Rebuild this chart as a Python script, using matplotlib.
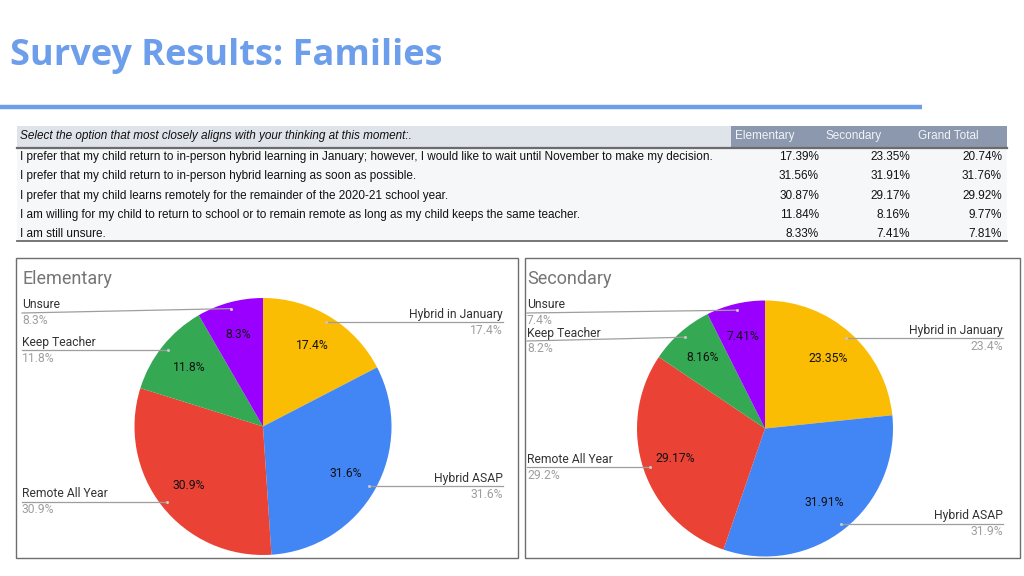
import numpy as np
import matplotlib
matplotlib.use("Agg")
import matplotlib.pyplot as plt
from matplotlib.patches import Rectangle

# ---- data ----
categories = ["Hybrid in January", "Hybrid ASAP", "Remote All Year", "Keep Teacher", "Unsure"]
colors = ["#fbbc04", "#4285f4", "#ea4335", "#34a853", "#9900ff"]

questions = [
    "I prefer that my child return to in-person hybrid learning in January; however, I would like to wait until November to make my decision.",
    "I prefer that my child return to in-person hybrid learning as soon as possible.",
    "I prefer that my child learns remotely for the remainder of the 2020-21 school year.",
    "I am willing for my child to return to school or to remain remote as long as my child keeps the same teacher.",
    "I am still unsure.",
]
elementary = [17.39, 31.56, 30.87, 11.84, 8.33]
secondary = [23.35, 31.91, 29.17, 8.16, 7.41]
grand_total = [20.74, 31.76, 29.92, 9.77, 7.81]
table_header = "Select the option that most closely aligns with your thinking at this moment:."
col_names = ["Elementary", "Secondary", "Grand Total"]

W, H = 1024, 576
fig = plt.figure(figsize=(W / 100, H / 100), dpi=100)
ax = fig.add_axes([0, 0, 1, 1])


def Y(py):
    # pixel row (top-down) -> axis y (bottom-up)
    return H - py


TABLE_FONT = "Liberation Sans"
PIE_FONT = "Roboto"
TFS = 8.45

# ---- title ----
ax.text(10, Y(56), "Survey Results: Families", fontsize=26, fontweight="bold",
        family="Open Sans", color="#6d9eeb", va="center", ha="left")
ax.plot([0, 922], [Y(107), Y(107)], color="#6d9eeb", lw=3.2, solid_capstyle="butt")

# ---- table ----
tx0, tx1 = 17, 1007
ax.add_patch(Rectangle((tx0, Y(147)), 731 - tx0, 21, color="#dfe3ea", lw=0))
ax.add_patch(Rectangle((731, Y(147)), tx1 - 731, 21, color="#8c98ae", lw=0))
ax.add_patch(Rectangle((tx0, Y(241)), tx1 - tx0, 94, color="#f5f7f9", lw=0))
ax.plot([tx0, tx1], [Y(148), Y(148)], color="#6b6b6b", lw=1.6)
ax.plot([tx0, tx1], [Y(241), Y(241)], color="#6b6b6b", lw=1.3)
ax.text(20, Y(136), table_header, fontsize=TFS, style="italic", family=TABLE_FONT,
        color="#111111", va="center")
col_left = [735, 826, 918]
col_right = [819, 910, 1002]
for name, xl in zip(col_names, col_left):
    ax.text(xl, Y(136), name, fontsize=TFS, family=TABLE_FONT, color="#f2f4f8", va="center")
row_y = [157, 176, 196, 215, 234]
for i, q in enumerate(questions):
    ax.text(20, Y(row_y[i]), q, fontsize=TFS, family=TABLE_FONT, color="#111111", va="center")
    for vals, xr in zip([elementary, secondary, grand_total], col_right):
        ax.text(xr, Y(row_y[i]), f"{vals[i]:.2f}%", fontsize=TFS, family=TABLE_FONT,
                color="#111111", va="center", ha="right")


# ---- pie panels ----
def pie_panel(box, title, center, radius, values, inner_fmt, pad_l, pad_r):
    bx0, by0, bx1, by1 = box
    ax.add_patch(Rectangle((bx0, Y(by1)), bx1 - bx0, by1 - by0, fill=False,
                           ec="#6e6e6e", lw=1.0))
    ax.text(bx0 + pad_l, Y(by0 + 21), title, fontsize=13, family=PIE_FONT,
            color="#757575", va="center")
    cx, cy = center[0], Y(center[1])
    total = sum(values)
    wedges, _, autotexts = ax.pie(values, colors=colors, startangle=90, counterclock=False,
                                  center=(cx, cy), radius=radius, autopct=inner_fmt,
                                  pctdistance=0.74, frame=True,
                                  wedgeprops=dict(lw=0),
                                  textprops=dict(fontsize=8.7, family=PIE_FONT, color="#111111"))
    # outer labels with leader lines
    left, right = [], []
    for w, cat, v in zip(wedges, categories, values):
        mid = np.deg2rad((w.theta1 + w.theta2) / 2)
        dx = cx + 0.95 * radius * np.cos(mid)
        dy = cy + 0.95 * radius * np.sin(mid)
        item = [dx, dy, cat, v / total * 100]
        (left if dx < cx else right).append(item)
    top_limit = Y(by0 + 55)
    for side in (left, right):
        side.sort(key=lambda it: -it[1])
        ly_prev = None
        for it in side:
            ly = min(it[1], top_limit)
            if ly_prev is not None and ly_prev - ly < 28:
                ly = ly_prev - 28
            it.append(ly)
            ly_prev = ly
    for dx, dy, cat, pct, ly in left:
        lx = bx0 + pad_l
        ax.plot([lx, dx], [ly, dy], color="#9e9e9e", lw=0.9)
        ax.plot(dx, dy, "o", ms=2.2, color="#c8c8c8", mec="none")
        ax.text(lx, ly + 1.5, cat, fontsize=8.7, family=PIE_FONT, color="#333333", va="bottom")
        ax.text(lx, ly - 1.5, f"{pct:.1f}%", fontsize=8.7, family=PIE_FONT,
                color="#9e9e9e", va="top")
    for dx, dy, cat, pct, ly in right:
        lx = bx1 - pad_r
        ax.plot([dx, lx], [dy, ly], color="#9e9e9e", lw=0.9)
        ax.plot(dx, dy, "o", ms=2.2, color="#c8c8c8", mec="none")
        ax.text(lx, ly + 1.5, cat, fontsize=8.7, family=PIE_FONT, color="#333333",
                va="bottom", ha="right")
        ax.text(lx, ly - 1.5, f"{pct:.1f}%", fontsize=8.7, family=PIE_FONT,
                color="#9e9e9e", va="top", ha="right")


pie_panel((16, 258, 518, 558), "Elementary", (263, 426.5), 128.5, elementary, "%.1f%%", 6, 15)
pie_panel((525, 258, 1020, 558), "Secondary", (765, 428.5), 128, secondary, "%.2f%%", 2, 17)

ax.set_xlim(0, W)
ax.set_ylim(0, H)
ax.set_aspect("auto")
ax.axis("off")

fig.savefig("out.png", dpi=100, facecolor="white")
